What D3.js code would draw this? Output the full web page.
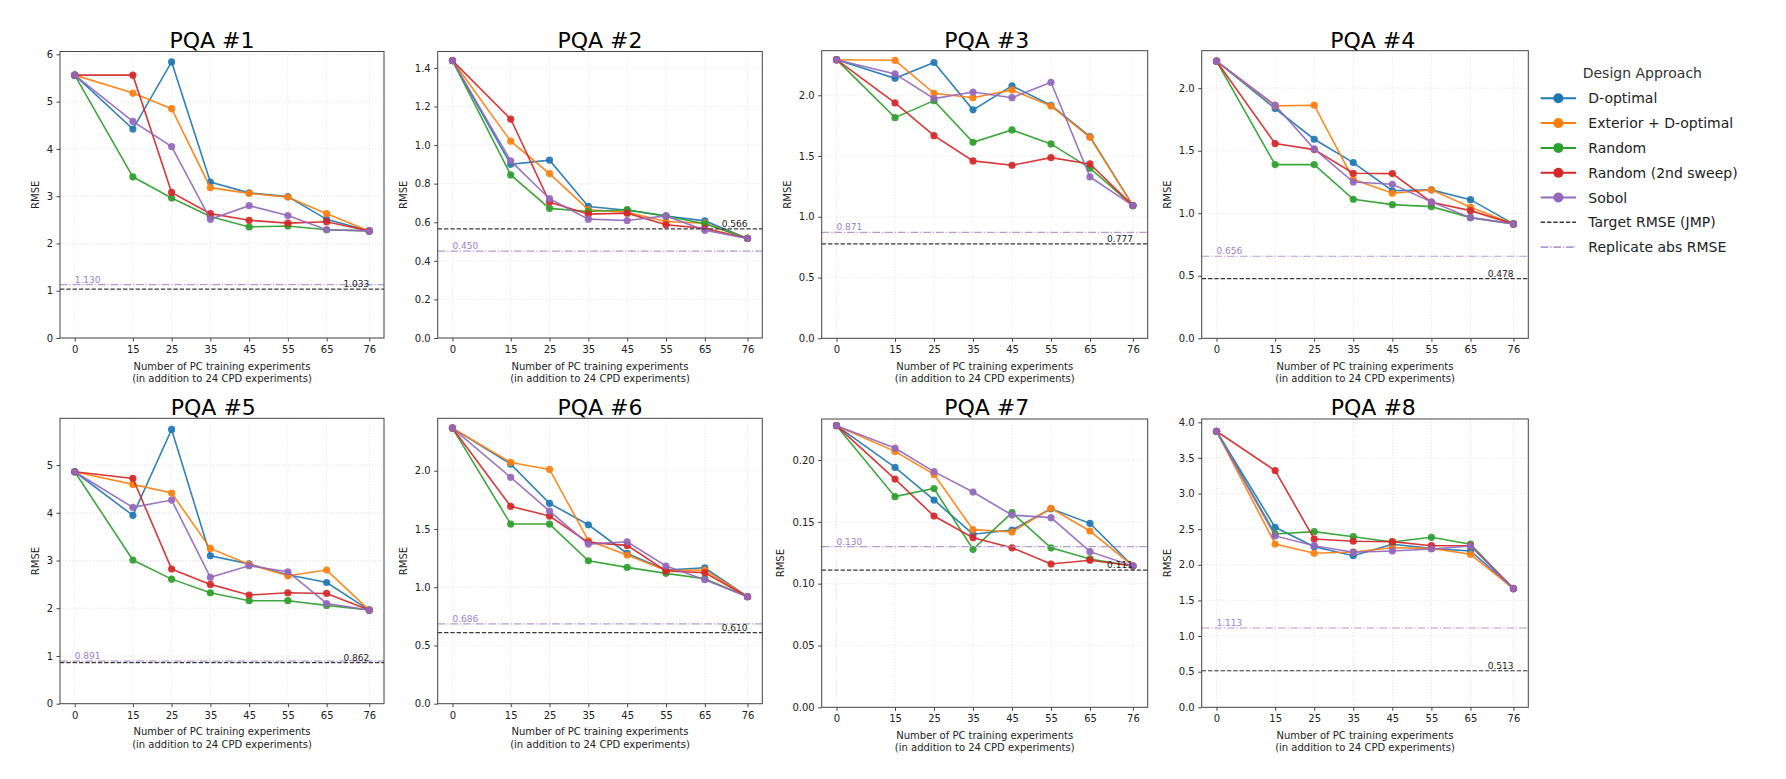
<!DOCTYPE html>
<html>
<head>
<meta charset="utf-8">
<script src="https://cdn.jsdelivr.net/npm/d3@7/dist/d3.min.js"></script>
<style>
  html, body { margin: 0; padding: 0; background: #fff; }
  svg { display: block; }
  text { font-family: "DejaVu Sans", sans-serif; }
</style>
</head>
<body>
<svg id="chart" width="1786" height="779"></svg>
<script>
// ---------------- DATA ----------------
const xValues = [0, 15, 25, 35, 45, 55, 65, 76];
const seriesNames = ["D-optimal", "Exterior + D-optimal", "Random", "Random (2nd sweep)", "Sobol"];
const seriesColors = ["#1f77b4", "#ff7f0e", "#2ca02c", "#d62728", "#9467bd"];
const panelTitles = ["PQA #1", "PQA #2", "PQA #3", "PQA #4", "PQA #5", "PQA #6", "PQA #7", "PQA #8"];

// each row: D-optimal, Exterior + D-optimal, Random, Random (2nd sweep), Sobol
const pqa1 = [
  [5.56, 4.42, 5.84, 3.30, 3.07, 2.99, 2.51, 2.265],
  [5.56, 5.18, 4.85, 3.18, 3.06, 2.98, 2.63, 2.265],
  [5.56, 3.41, 2.96, 2.57, 2.35, 2.37, 2.29, 2.265],
  [5.56, 5.56, 3.08, 2.63, 2.49, 2.43, 2.46, 2.265],
  [5.56, 4.58, 4.05, 2.51, 2.80, 2.59, 2.29, 2.265]
];
const pqa2 = [
  [1.438, 0.900, 0.922, 0.682, 0.662, 0.632, 0.607, 0.516],
  [1.438, 1.020, 0.852, 0.665, 0.652, 0.604, 0.595, 0.516],
  [1.438, 0.845, 0.672, 0.656, 0.665, 0.632, 0.592, 0.516],
  [1.438, 1.135, 0.705, 0.642, 0.647, 0.587, 0.568, 0.516],
  [1.438, 0.918, 0.722, 0.616, 0.609, 0.633, 0.558, 0.516]
];
const pqa3 = [
  [2.293, 2.140, 2.270, 1.880, 2.077, 1.918, 1.660, 1.092],
  [2.293, 2.288, 2.016, 1.980, 2.044, 1.912, 1.654, 1.092],
  [2.293, 1.816, 1.956, 1.613, 1.715, 1.600, 1.400, 1.092],
  [2.293, 1.937, 1.668, 1.460, 1.424, 1.487, 1.435, 1.092],
  [2.293, 2.176, 1.973, 2.027, 1.980, 2.107, 1.328, 1.092]
];
const pqa4 = [
  [2.216, 1.837, 1.592, 1.405, 1.180, 1.187, 1.109, 0.915],
  [2.216, 1.859, 1.864, 1.272, 1.160, 1.187, 1.048, 0.915],
  [2.216, 1.389, 1.389, 1.112, 1.069, 1.053, 0.965, 0.915],
  [2.216, 1.557, 1.509, 1.320, 1.317, 1.088, 1.021, 0.915],
  [2.216, 1.864, 1.515, 1.250, 1.232, 1.091, 0.965, 0.915]
];
const pqa5 = [
  [4.86, 3.946, 5.747, 3.100, 2.930, 2.700, 2.540, 1.962],
  [4.86, 4.595, 4.413, 3.254, 2.919, 2.680, 2.800, 1.962],
  [4.86, 3.010, 2.610, 2.325, 2.158, 2.158, 2.060, 1.962],
  [4.86, 4.720, 2.820, 2.500, 2.277, 2.325, 2.310, 1.962],
  [4.86, 4.113, 4.267, 2.647, 2.890, 2.765, 2.100, 1.962]
];
const pqa6 = [
  [2.366, 2.057, 1.720, 1.536, 1.290, 1.147, 1.167, 0.918],
  [2.366, 2.071, 2.011, 1.400, 1.276, 1.144, 1.147, 0.918],
  [2.366, 1.542, 1.542, 1.227, 1.170, 1.119, 1.073, 0.918],
  [2.366, 1.694, 1.611, 1.385, 1.359, 1.139, 1.124, 0.918],
  [2.366, 1.943, 1.654, 1.370, 1.390, 1.182, 1.064, 0.918]
];
const pqa7 = [
  [0.2278, 0.1940, 0.1677, 0.1400, 0.1434, 0.1606, 0.1488, 0.1143],
  [0.2278, 0.2070, 0.1884, 0.1437, 0.1418, 0.1610, 0.1426, 0.1143],
  [0.2278, 0.1704, 0.1770, 0.1278, 0.1574, 0.1290, 0.1200, 0.1143],
  [0.2278, 0.1846, 0.1547, 0.1372, 0.1290, 0.1159, 0.1190, 0.1143],
  [0.2278, 0.2097, 0.1906, 0.1741, 0.1555, 0.1534, 0.1259, 0.1143]
];
const pqa8 = [
  [3.874, 2.526, 2.254, 2.128, 2.288, 2.230, 2.194, 1.666],
  [3.874, 2.292, 2.161, 2.180, 2.240, 2.230, 2.147, 1.666],
  [3.874, 2.433, 2.465, 2.394, 2.320, 2.386, 2.290, 1.666],
  [3.874, 3.322, 2.362, 2.330, 2.325, 2.268, 2.268, 1.666],
  [3.874, 2.405, 2.268, 2.175, 2.194, 2.222, 2.264, 1.666]
];
const targetRMSE = [1.033, 0.566, 0.777, 0.478, 0.862, 0.610, 0.111, 0.513];
const replicateRMSE = [1.130, 0.450, 0.871, 0.656, 0.891, 0.686, 0.130, 1.113];

const yTicks1 = [0, 1, 2, 3, 4, 5, 6];
const yTicks2 = [0, 0.2, 0.4, 0.6, 0.8, 1.0, 1.2, 1.4];
const yTicks3 = [0, 0.5, 1.0, 1.5, 2.0];
const yTicks4 = [0, 0.5, 1.0, 1.5, 2.0];
const yTicks5 = [0, 1, 2, 3, 4, 5];
const yTicks6 = [0, 0.5, 1.0, 1.5, 2.0];
const yTicks7 = [0, 0.05, 0.10, 0.15, 0.20];
const yTicks8 = [0, 0.5, 1.0, 1.5, 2.0, 2.5, 3.0, 3.5, 4.0];
const yTickFormats = [".0f", ".1f", ".1f", ".1f", ".0f", ".1f", ".2f", ".1f"];
const yMax = [6.06, 1.485, 2.367, 2.30, 5.98, 2.45, 0.2332, 4.046];
const xDomain = [-3.8, 79.8];

const legendTitle = "Design Approach";
const refNames = ["Target RMSE (JMP)", "Replicate abs RMSE"];

// ---------------- LAYOUT ----------------
const panels = [pqa1, pqa2, pqa3, pqa4, pqa5, pqa6, pqa7, pqa8];
const yTicksAll = [yTicks1, yTicks2, yTicks3, yTicks4, yTicks5, yTicks6, yTicks7, yTicks8];
const boxes = [
  {l: 60,    r: 384,    t: 51.5,  b: 338,   tx: 212,   ty: 48},
  {l: 437.7, r: 762.3,  t: 51.5,  b: 338,   tx: 600,   ty: 48},
  {l: 821.7, r: 1147.7, t: 50.7,  b: 338.3, tx: 986.7, ty: 48},
  {l: 1201.7,r: 1528.3, t: 50.7,  b: 338.3, tx: 1372.7,ty: 48},
  {l: 60,    r: 384,    t: 418.3, b: 703.7, tx: 213.3, ty: 415},
  {l: 437.7, r: 762.3,  t: 418.3, b: 703.7, tx: 600,   ty: 415},
  {l: 821.7, r: 1147.7, t: 419,   b: 707.3, tx: 986.7, ty: 415},
  {l: 1201.7,r: 1528.3, t: 419,   b: 707.3, tx: 1373.3,ty: 415}
];

const svg = d3.select("#chart");
const textColor = "#222";
const replicateColor = "#b49ad6";
const targetColor = "#3a3a3a";

panels.forEach((series, pi) => {
  const bx = boxes[pi];
  const x = d3.scaleLinear().domain(xDomain).range([bx.l, bx.r]);
  const y = d3.scaleLinear().domain([0, yMax[pi]]).range([bx.b, bx.t]);
  const g = svg.append("g");

  // grid
  g.append("g").selectAll("line.gx").data(xValues).join("line")
    .attr("x1", d => x(d)).attr("x2", d => x(d))
    .attr("y1", bx.t).attr("y2", bx.b)
    .attr("stroke", "#d9d9d9").attr("stroke-width", 0.8).attr("stroke-dasharray", "1,2");
  g.append("g").selectAll("line.gy").data(yTicksAll[pi]).join("line")
    .attr("x1", bx.l).attr("x2", bx.r)
    .attr("y1", d => y(d)).attr("y2", d => y(d))
    .attr("stroke", "#d9d9d9").attr("stroke-width", 0.8).attr("stroke-dasharray", "1,2");

  // series
  const line = d3.line().x((d, i) => x(xValues[i])).y(d => y(d));
  series.forEach((vals, si) => {
    g.append("path").datum(vals)
      .attr("d", line).attr("fill", "none")
      .attr("stroke", seriesColors[si]).attr("stroke-width", 1.6)
      .attr("stroke-opacity", 0.92);
    g.append("g").selectAll("circle").data(vals).join("circle")
      .attr("cx", (d, i) => x(xValues[i])).attr("cy", d => y(d))
      .attr("r", 3.6).attr("fill", seriesColors[si]).attr("fill-opacity", 0.92);
  });

  // reference lines
  const ry = y(replicateRMSE[pi]);
  const ty = y(targetRMSE[pi]);
  g.append("line").attr("x1", bx.l).attr("x2", bx.r).attr("y1", ry).attr("y2", ry)
    .attr("stroke", replicateColor).attr("stroke-width", 1.2)
    .attr("stroke-dasharray", "7.7,1.9,1.2,1.9");
  g.append("line").attr("x1", bx.l).attr("x2", bx.r).attr("y1", ty).attr("y2", ty)
    .attr("stroke", targetColor).attr("stroke-width", 1.2)
    .attr("stroke-dasharray", "4.4,1.9");
  g.append("text").attr("x", x(xValues[0])).attr("y", ry - 2)
    .attr("font-size", 9).attr("fill", "#9c7fd0")
    .text(d3.format(".3f")(replicateRMSE[pi]));
  g.append("text").attr("x", x(xValues[xValues.length - 1])).attr("y", ty - 2)
    .attr("font-size", 9).attr("fill", textColor).attr("text-anchor", "end")
    .text(d3.format(".3f")(targetRMSE[pi]));

  // frame
  g.append("rect").attr("x", bx.l).attr("y", bx.t)
    .attr("width", bx.r - bx.l).attr("height", bx.b - bx.t)
    .attr("fill", "none").attr("stroke", "#444").attr("stroke-width", 1);

  // axes
  const xAxis = d3.axisBottom(x).tickValues(xValues).tickFormat(d3.format("d"))
    .tickSize(3.5).tickPadding(4.5);
  const gx = g.append("g").attr("transform", `translate(0,${bx.b})`).call(xAxis);
  const yAxis = d3.axisLeft(y).tickValues(yTicksAll[pi]).tickFormat(d3.format(yTickFormats[pi]))
    .tickSize(3.5).tickPadding(3.5);
  const gy = g.append("g").attr("transform", `translate(${bx.l},0)`).call(yAxis);
  [gx, gy].forEach(a => {
    a.select(".domain").remove();
    a.selectAll(".tick line").attr("stroke", "#444");
    a.selectAll(".tick text").attr("font-size", 10).attr("fill", textColor)
      .attr("font-family", "DejaVu Sans");
  });

  // y label
  let maxW = 0;
  gy.selectAll(".tick text").each(function() { maxW = Math.max(maxW, this.getBBox().width); });
  const ly = (bx.t + bx.b) / 2;
  const lx = bx.l - (7 + maxW + 11.5);
  g.append("text").attr("transform", `translate(${lx},${ly}) rotate(-90)`)
    .attr("text-anchor", "middle").attr("dominant-baseline", "central")
    .attr("font-size", 10).attr("fill", textColor).text("RMSE");

  // x label
  const cx = (bx.l + bx.r) / 2;
  g.append("text").attr("x", cx).attr("y", bx.b + 31.5).attr("text-anchor", "middle")
    .attr("font-size", 10).attr("fill", textColor).text("Number of PC training experiments");
  g.append("text").attr("x", cx).attr("y", bx.b + 44).attr("text-anchor", "middle")
    .attr("font-size", 10).attr("fill", textColor).text("(in addition to 24 CPD experiments)");

  // title
  g.append("text").attr("x", bx.tx).attr("y", bx.ty).attr("text-anchor", "middle")
    .attr("font-family", "Liberation Sans, Arial, sans-serif").attr("font-size", 22)
    .attr("fill", "#000").text(panelTitles[pi]);
});

// ---------------- LEGEND ----------------
const lg = svg.append("g");
lg.append("text").attr("x", 1582.7).attr("y", 78).attr("font-size", 14)
  .attr("fill", "#333").text(legendTitle);
const legendY0 = 98.3, legendStep = 24.8;
const hx1 = 1540.7, hx2 = 1576, tx0 = 1588.3;
seriesNames.forEach((name, i) => {
  const yy = legendY0 + i * legendStep;
  lg.append("line").attr("x1", hx1).attr("x2", hx2).attr("y1", yy).attr("y2", yy)
    .attr("stroke", seriesColors[i]).attr("stroke-width", 2);
  lg.append("circle").attr("cx", (hx1 + hx2) / 2).attr("cy", yy).attr("r", 5)
    .attr("fill", seriesColors[i]);
  lg.append("text").attr("x", tx0).attr("y", yy + 5).attr("font-size", 14)
    .attr("fill", textColor).text(name);
});
refNames.forEach((name, j) => {
  const yy = legendY0 + (seriesNames.length + j) * legendStep;
  lg.append("line").attr("x1", hx1).attr("x2", hx2).attr("y1", yy).attr("y2", yy)
    .attr("stroke", j === 0 ? targetColor : replicateColor).attr("stroke-width", 1.6)
    .attr("stroke-dasharray", j === 0 ? "4.4,1.9" : "7.7,1.9,1.2,1.9");
  lg.append("text").attr("x", tx0).attr("y", yy + 5).attr("font-size", 14)
    .attr("fill", textColor).text(name);
});
</script>
</body>
</html>
